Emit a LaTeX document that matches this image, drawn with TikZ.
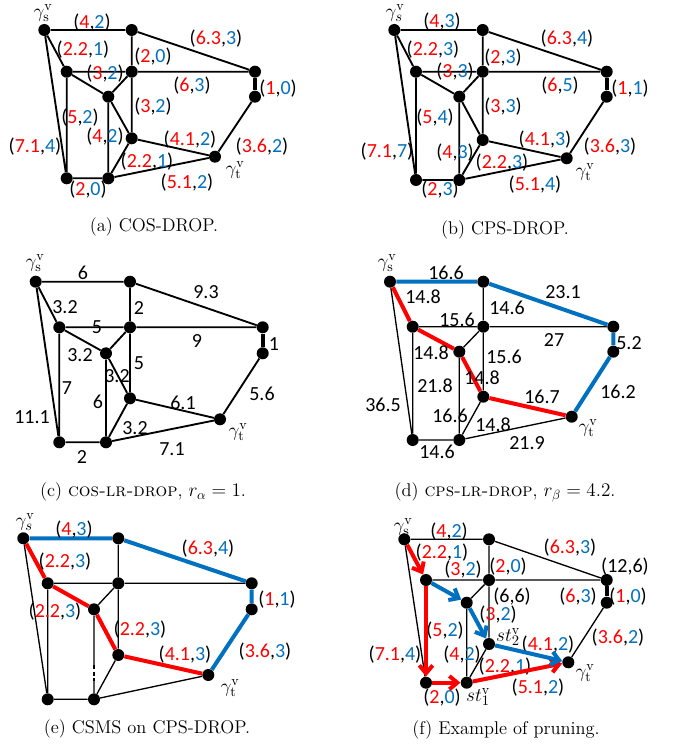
\documentclass[tikz,border=0pt]{standalone}
\usepackage{fontspec}
\newfontfamily\lblfont{Carlito}
\usetikzlibrary{arrows.meta}
\definecolor{cosred}{RGB}{255,0,0}
\definecolor{cpsblue}{RGB}{0,112,192}
\newcommand{\costpair}[2]{(\textcolor{cosred}{#1},\textcolor{cpsblue}{#2})}
\begin{document}
\begin{tikzpicture}[x=0.75pt,y=0.75pt,yscale=-1,xscale=1,
  dot/.style={circle,fill=black,inner sep=0pt,minimum size=9pt},
  edge/.style={line width=1.4pt},
  thinedge/.style={line width=1pt},
  redpath/.style={cosred,line width=3pt},
  bluepath/.style={cpsblue,line width=3pt},
  redarrow/.style={cosred,line width=3pt,-{Straight Barb[length=6pt,width=10pt]}},
  bluearrow/.style={cpsblue,line width=3pt,-{Straight Barb[length=6pt,width=10pt]}},
  lbl/.style={font=\lblfont\fontsize{15}{17}\selectfont,inner sep=0.75pt},
  captext/.style={font=\fontsize{13.8}{16}\selectfont,inner sep=0.75pt}]
\useasboundingbox (0,0) rectangle (678,755);

% (a) COS-DROP
\node[dot] (a-s) at (44.3,30) {};
\node[dot] (a-1) at (131.7,30) {};
\node[dot] (a-2) at (66.7,71.7) {};
\node[dot] (a-3) at (131.7,71.7) {};
\node[dot] (a-4) at (255,71.7) {};
\node[dot] (a-5) at (255,96.7) {};
\node[dot] (a-6) at (108.3,96.7) {};
\node[dot] (a-7) at (131.7,138.3) {};
\node[dot] (a-t) at (215,156.7) {};
\node[dot] (a-8) at (66.7,178.3) {};
\node[dot] (a-9) at (108.3,178.3) {};
\draw[edge] (a-s) -- (a-1) -- (a-3) -- (a-7) -- (a-t) (a-1) -- (a-4) (a-s) -- (a-2) -- (a-3) -- (a-4) (a-s) -- (a-8) -- (a-9) -- (a-t) (a-2) -- (a-8) (a-2) -- (a-6) -- (a-3) (a-6) -- (a-9) -- (a-7) -- (a-6) (a-5) -- (a-t);
\draw[edge,line width=3pt] (a-4) -- (a-5);
\node[lbl] (a-gs) at (43,13) {$\gamma_{\mathrm{s}}^{\mathrm{v}}$};
\node[lbl] (a-l1) at (92,23) {\costpair{4}{2}};
\node[lbl] (a-l2) at (216,39) {\costpair{6.3}{3}};
\node[lbl] (a-l3) at (83,50) {\costpair{2.2}{1}};
\node[lbl] (a-l4) at (153,57) {\costpair{2}{0}};
\node[lbl] (a-l5) at (105,74) {\costpair{3}{2}};
\node[lbl] (a-l6) at (192,86) {\costpair{6}{3}};
\node[lbl] (a-l7) at (278,89) {\costpair{1}{0}};
\node[lbl] (a-l8) at (153,107) {\costpair{3}{2}};
\node[lbl] (a-l9) at (80,118) {\costpair{5}{2}};
\node[lbl] (a-l10) at (35,147) {\costpair{7.1}{4}};
\node[lbl] (a-l11) at (105,137) {\costpair{4}{2}};
\node[lbl] (a-l12) at (190,140) {\costpair{4.1}{2}};
\node[lbl] (a-l13) at (262,147) {\costpair{3.6}{2}};
\node[lbl] (a-l14) at (147,162) {\costpair{2.2}{1}};
\node[lbl] (a-gt) at (235,170) {$\gamma_{\mathrm{t}}^{\mathrm{v}}$};
\node[lbl] (a-l15) at (187,183) {\costpair{5.1}{2}};
\node[lbl] (a-l16) at (88,190) {\costpair{2}{0}};
\node[captext] (a-cap) at (154,227) {(a) COS-DROP.};

% (b) CPS-DROP
\node[dot] (b-s) at (394.3,30) {};
\node[dot] (b-1) at (482.7,30) {};
\node[dot] (b-2) at (416,71.7) {};
\node[dot] (b-3) at (482.7,71.7) {};
\node[dot] (b-4) at (606.7,71.7) {};
\node[dot] (b-5) at (606.7,96.7) {};
\node[dot] (b-6) at (459.3,96.7) {};
\node[dot] (b-7) at (482.7,140) {};
\node[dot] (b-t) at (566.7,158.3) {};
\node[dot] (b-8) at (416,180) {};
\node[dot] (b-9) at (459.3,180) {};
\draw[edge] (b-s) -- (b-1) -- (b-3) -- (b-7) -- (b-t) (b-1) -- (b-4) (b-s) -- (b-2) -- (b-3) -- (b-4) (b-s) -- (b-8) -- (b-9) -- (b-t) (b-2) -- (b-8) (b-2) -- (b-6) -- (b-3) (b-6) -- (b-9) -- (b-7) -- (b-6) (b-5) -- (b-t);
\draw[edge,line width=3pt] (b-4) -- (b-5);
\node[lbl] (b-gs) at (395,13) {$\gamma_s^{\mathrm{v}}$};
\node[lbl] (b-l1) at (442,22) {\costpair{4}{3}};
\node[lbl] (b-l2) at (567,39) {\costpair{6.3}{4}};
\node[lbl] (b-l3) at (433,50) {\costpair{2.2}{3}};
\node[lbl] (b-l4) at (503,58) {\costpair{2}{3}};
\node[lbl] (b-l5) at (455,72) {\costpair{3}{3}};
\node[lbl] (b-l6) at (560,86) {\costpair{6}{5}};
\node[lbl] (b-l7) at (630,89) {\costpair{1}{1}};
\node[lbl] (b-l8) at (503,107) {\costpair{3}{3}};
\node[lbl] (b-l9) at (435,118) {\costpair{5}{4}};
\node[lbl] (b-l10) at (387,152) {\costpair{7.1}{7}};
\node[lbl] (b-l11) at (455,153) {\costpair{4}{3}};
\node[lbl] (b-l12) at (545,140) {\costpair{4.1}{3}};
\node[lbl] (b-l13) at (610,147) {\costpair{3.6}{3}};
\node[lbl] (b-l14) at (502,163) {\costpair{2.2}{3}};
\node[lbl] (b-gt) at (585,172) {$\gamma_{\mathrm{t}}^{\mathrm{v}}$};
\node[lbl] (b-l15) at (535,185) {\costpair{5.1}{4}};
\node[lbl] (b-l16) at (440,190) {\costpair{2}{3}};
\node[captext] (b-cap) at (505,230) {(b) CPS-DROP.};

% (c) COS-LR-DROP
\node[dot] (c-s) at (35.7,281.7) {};
\node[dot] (c-1) at (130,281.7) {};
\node[dot] (c-2) at (59.3,327.3) {};
\node[dot] (c-3) at (130,327.3) {};
\node[dot] (c-4) at (262.7,327.3) {};
\node[dot] (c-5) at (262.7,353.3) {};
\node[dot] (c-6) at (106,353.3) {};
\node[dot] (c-7) at (130,398.3) {};
\node[dot] (c-t) at (220,419.3) {};
\node[dot] (c-8) at (59.3,442.3) {};
\node[dot] (c-9) at (106,442.3) {};
\draw[edge] (c-s) -- (c-1) -- (c-3) -- (c-7) -- (c-t) (c-1) -- (c-4) (c-s) -- (c-2) -- (c-3) -- (c-4) (c-s) -- (c-8) -- (c-9) -- (c-t) (c-2) -- (c-8) (c-2) -- (c-6) -- (c-3) (c-6) -- (c-9) -- (c-7) -- (c-6) (c-5) -- (c-t);
\draw[edge,line width=3pt] (c-4) -- (c-5);
\node[lbl] (c-gs) at (35,263) {$\gamma_{\mathrm{s}}^{\mathrm{v}}$};
\node[lbl] (c-l1) at (83,273) {6};
\node[lbl] (c-l2) at (206,292) {9.3};
\node[lbl] (c-l3) at (65,307) {3.2};
\node[lbl] (c-l4) at (139,308) {2};
\node[lbl] (c-l5) at (97,327) {5};
\node[lbl] (c-l6) at (197,341) {9};
\node[lbl] (c-l7) at (274,344) {1};
\node[lbl] (c-l8) at (80,355) {3.2};
\node[lbl] (c-l9) at (139,363) {5};
\node[lbl] (c-l10) at (117,376) {3.2};
\node[lbl] (c-l11) at (67,388) {7};
\node[lbl] (c-l12) at (98,402) {6};
\node[lbl] (c-l13) at (262,394) {5.6};
\node[lbl] (c-l14) at (183,403) {6.1};
\node[lbl] (c-l15) at (32,417) {11.1};
\node[lbl] (c-l16) at (135,428) {3.2};
\node[lbl] (c-gt) at (238,432) {$\gamma_{\mathrm{t}}^{\mathrm{v}}$};
\node[lbl] (c-l17) at (172,449) {7.1};
\node[lbl] (c-l18) at (82,457) {2};
\node[captext] (c-cap) at (143,492) {(c) \textsc{cos-lr-drop}, $r_\alpha = 1$.};

% (d) CPS-LR-DROP
\node[dot] (d-s) at (390,281.7) {};
\node[dot] (d-1) at (483.3,281.7) {};
\node[dot] (d-2) at (412.7,326.7) {};
\node[dot] (d-3) at (483.3,326.7) {};
\node[dot] (d-4) at (613.3,326.7) {};
\node[dot] (d-5) at (613.3,351.7) {};
\node[dot] (d-6) at (459.3,351.7) {};
\node[dot] (d-7) at (483.3,396.7) {};
\node[dot] (d-t) at (571.7,416.7) {};
\node[dot] (d-8) at (412.7,440) {};
\node[dot] (d-9) at (459.3,440) {};
\draw[thinedge] (d-1) -- (d-3) -- (d-7) (d-2) -- (d-3) -- (d-4) (d-s) -- (d-8) -- (d-9) -- (d-t) (d-2) -- (d-8) (d-6) -- (d-3) (d-6) -- (d-9) -- (d-7);
\draw[redpath] (d-s) -- (d-2) -- (d-6) -- (d-7) -- (d-t);
\draw[bluepath] (d-s) -- (d-1) -- (d-4) -- (d-5) -- (d-t);
\node[lbl] (d-gs) at (387,263) {$\gamma_{\mathrm{s}}^{\mathrm{v}}$};
\node[lbl] (d-l1) at (446,273) {16.6};
\node[lbl] (d-l2) at (563,292) {23.1};
\node[lbl] (d-l3) at (423,297) {14.8};
\node[lbl] (d-l4) at (507,308) {14.6};
\node[lbl] (d-l5) at (457,320) {15.6};
\node[lbl] (d-l6) at (554,340) {27};
\node[lbl] (d-l7) at (629,343) {5.2};
\node[lbl] (d-l8) at (431,353) {14.8};
\node[lbl] (d-l9) at (504,357) {15.6};
\node[lbl] (d-l10) at (482,378) {14.8};
\node[lbl] (d-l11) at (435,386) {21.8};
\node[lbl] (d-l12) at (542,397) {16.7};
\node[lbl] (d-l13) at (618,392) {16.2};
\node[lbl] (d-l14) at (383,405) {36.5};
\node[lbl] (d-l15) at (450,416) {16.6};
\node[lbl] (d-l16) at (493,425) {14.8};
\node[lbl] (d-gt) at (588,428) {$\gamma_{\mathrm{t}}^{\mathrm{v}}$};
\node[lbl] (d-l17) at (527,443) {21.9};
\node[lbl] (d-l18) at (437,452) {14.6};
\node[captext] (d-cap) at (505,492) {(d) \textsc{cps-lr-drop}, $r_\beta = 4.2$.};

% (e) CSMS on CPS-DROP
\node[dot] (e-s) at (23.3,538.3) {};
\node[dot] (e-1) at (118.3,538.3) {};
\node[dot] (e-2) at (47.7,583.3) {};
\node[dot] (e-3) at (118.3,583.3) {};
\node[dot] (e-4) at (251.7,583.3) {};
\node[dot] (e-5) at (251.7,609.3) {};
\node[dot] (e-6) at (94,609.3) {};
\node[dot] (e-7) at (118.3,655) {};
\node[dot] (e-t) at (208.3,675) {};
\node[dot] (e-8) at (47.7,699.3) {};
\node[dot] (e-9) at (94,699.3) {};
\coordinate (e-c1) at (94,665);
\coordinate (e-c2) at (94,681);
\draw[thinedge] (e-1) -- (e-3) -- (e-7) (e-2) -- (e-3) -- (e-4) (e-s) -- (e-8) -- (e-9) -- (e-t) (e-2) -- (e-8) (e-6) -- (e-3) (e-9) -- (e-7) (e-6) -- (e-c1) (e-c2) -- (e-9);
\draw[thinedge,dash pattern=on 3pt off 2pt] (e-c1) -- (e-c2);
\draw[redpath] (e-s) -- (e-2) -- (e-6) -- (e-7) -- (e-t);
\draw[bluepath] (e-s) -- (e-1) -- (e-4) -- (e-5) -- (e-t);
\node[lbl] (e-gs) at (25,522) {$\gamma_s^{\mathrm{v}}$};
\node[lbl] (e-l1) at (74,530) {\costpair{4}{3}};
\node[lbl] (e-l2) at (208,549) {\costpair{6.3}{4}};
\node[lbl] (e-l3) at (65,562) {\costpair{2.2}{3}};
\node[lbl] (e-l4) at (55,612) {\costpair{2.2}{3}};
\node[lbl] (e-l5) at (277,600) {\costpair{1}{1}};
\node[lbl] (e-l6) at (140,630) {\costpair{2.2}{3}};
\node[lbl] (e-l7) at (185,655) {\costpair{4.1}{3}};
\node[lbl] (e-l8) at (265,652) {\costpair{3.6}{3}};
\node[lbl] (e-gt) at (230,688) {$\gamma_{\mathrm{t}}^{\mathrm{v}}$};
\node[captext] (e-cap) at (147,729) {(e) CSMS on CPS-DROP.};

% (f) Example of pruning
\node[dot] (f-s) at (404.3,539.3) {};
\node[dot] (f-1) at (489,539.3) {};
\node[dot] (f-2) at (426,580) {};
\node[dot] (f-3) at (489,580) {};
\node[dot] (f-4) at (606.7,580) {};
\node[dot] (f-5) at (606.7,602.7) {};
\node[dot] (f-6) at (466.7,602.7) {};
\node[dot] (f-7) at (489,644) {};
\node[dot] (f-t) at (568.3,662.3) {};
\node[dot] (f-8) at (426,682.7) {};
\node[dot] (f-9) at (466.7,682.7) {};
\draw[thinedge] (f-s) -- (f-1) -- (f-3) -- (f-7) (f-1) -- (f-4) (f-2) -- (f-3) -- (f-4) (f-s) -- (f-8) (f-6) -- (f-3) (f-6) -- (f-9) -- (f-7) (f-5) -- (f-t);
\draw[thinedge,line width=3pt] (f-4) -- (f-5);
\node[lbl] (f-gs) at (403,527) {$\gamma_{\mathrm{s}}^{\mathrm{v}}$};
\node[lbl] (f-l1) at (449,532) {\costpair{4}{2}};
\node[lbl] (f-l2) at (570,548) {\costpair{6.3}{3}};
\node[lbl] (f-l3) at (442,553) {\costpair{2.2}{1}};
\node[lbl] (f-l4) at (625,567) {(12,6)};
\node[lbl] (f-l5) at (463,570) {\costpair{3}{2}};
\node[lbl] (f-l6) at (508,567) {\costpair{2}{0}};
\node[lbl] (f-l7) at (512,597) {(6,6)};
\node[lbl] (f-l8) at (578,597) {\costpair{6}{3}};
\node[lbl] (f-l9) at (628,597) {\costpair{1}{0}};
\node[lbl] (f-l10) at (498,615) {\costpair{3}{2}};
\node[lbl] (f-l11) at (445,631) {\costpair{5}{2}};
\node[lbl] (f-st2) at (508,637) {$st_2^{\mathrm{v}}$};
\node[lbl] (f-l12) at (618,638) {\costpair{3.6}{2}};
\node[lbl] (f-l13) at (548,645) {\costpair{4.1}{2}};
\node[lbl] (f-l14) at (395,655) {\costpair{7.1}{4}};
\node[lbl] (f-l15) at (462,655) {\costpair{4}{2}};
\node[lbl] (f-l16) at (505,667) {\costpair{2.2}{1}};
\node[lbl] (f-gt) at (585,673) {$\gamma_{\mathrm{t}}^{\mathrm{v}}$};
\node[lbl] (f-l17) at (538,688) {\costpair{5.1}{2}};
\node[lbl] (f-l18) at (442,698) {\costpair{2}{0}};
\node[lbl] (f-st1) at (478,697) {$st_1^{\mathrm{v}}$};
\draw[redarrow] (f-s) -- (f-2);
\draw[redarrow] (f-2) -- (f-8);
\draw[redarrow] (f-8) -- (f-9);
\draw[redarrow] (f-9) -- (f-t);
\draw[bluearrow] (f-2) -- (f-6);
\draw[bluearrow] (f-6) -- (f-7);
\draw[bluearrow] (f-7) -- (f-t);
\node[captext] (f-cap) at (506,730) {(f) Example of pruning.};
\end{tikzpicture}
\end{document}
